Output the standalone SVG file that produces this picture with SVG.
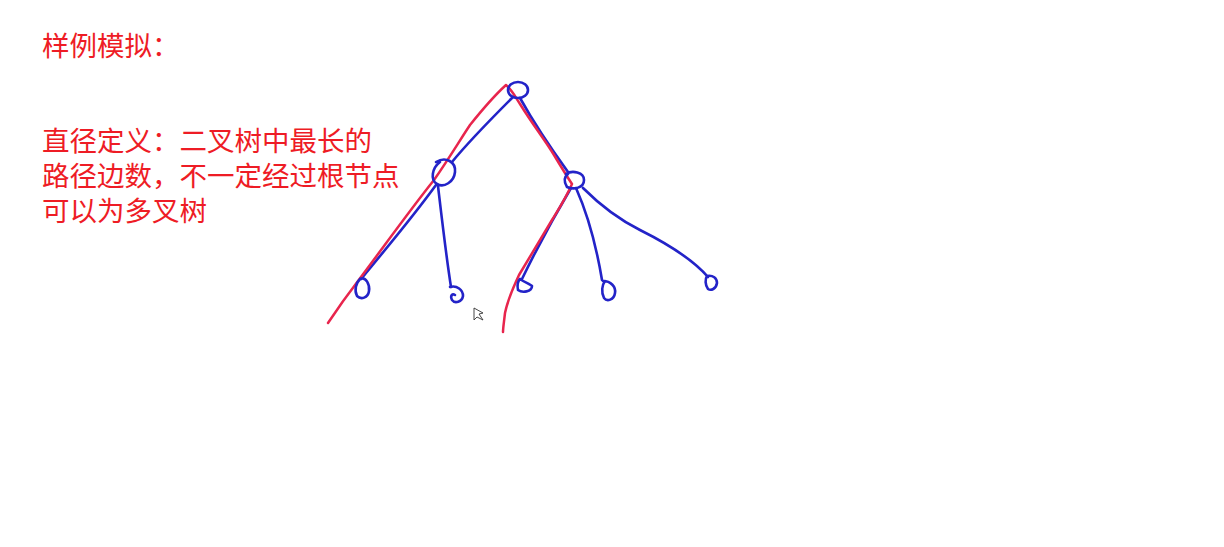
<svg xmlns="http://www.w3.org/2000/svg" width="1224" height="547" viewBox="0 0 1224 547">
<style>
.t{font-family:"Liberation Sans","Noto Sans CJK SC",sans-serif;font-size:27.5px;fill:#ee1c25}
.b{fill:none;stroke:#2323c8;stroke-width:2.6;stroke-linecap:round;stroke-linejoin:round}
.r{fill:none;stroke:#e8254d;stroke-width:2.5;stroke-linecap:round;stroke-linejoin:round}
</style>
<rect width="1224" height="547" fill="#ffffff"/>
<g id="title"><text class="t" x="42" y="56">样例模拟：</text></g>
<g id="definition">
<text class="t" x="42" y="151">直径定义：二叉树中最长的</text>
<text class="t" x="42" y="186">路径边数，不一定经过根节点</text>
<text class="t" x="42" y="221">可以为多叉树</text>
</g>
<g id="connectors">
<path class="b" d="M512,98 C492,118 470,140 452,162"/>
<path class="b" d="M520,98 C535,125 552,150 568,172"/>
<path class="b" d="M436,185 C412,218 385,250 361,279"/>
<path class="b" d="M438,186 C442,220 446,255 451,287"/>
<path class="b" d="M571,188 C555,215 537,248 522,279"/>
<path class="b" d="M576,188 C588,215 597,250 602,280"/>
<path class="b" d="M583,188 C600,205 620,220 640,230 C670,245 695,262 708,277"/>
</g>
<g id="diameter-path">
<path class="r" d="M328,323 C338,308 348,294 358,281 C385,245 410,210 434,180 C448,160 460,140 470,125 C482,110 495,95 506,85 C512,90 516,98 520,104 C533,125 545,140 554,155 C560,165 566,175 572,184 C565,200 558,210 552,220 C540,240 528,260 519,275 C512,290 507,303 505,313 C504,322 503,328 503,332"/>
</g>
<g id="node-root"><ellipse class="b" cx="518" cy="90" rx="10" ry="8"/></g>
<g id="node-left"><path class="b" d="M436,162 C446,156 456,162 455,172 C454,182 444,188 437,184 C430,180 432,168 440,162"/></g>
<g id="node-right"><path class="b" d="M566,174 C572,170 584,172 584,180 C584,188 574,190 567,187 C564,182 564,177 568,174"/></g>
<g id="leaf-1"><path class="b" d="M360,279 C366,276 370,285 369,291 C368,298 361,300 357,296 C354,290 356,283 360,279"/></g>
<g id="leaf-2"><path class="b" d="M450,287 C457,285 463,290 463,296 C462,302 455,304 452,300 C450,296 452,293 455,295"/></g>
<g id="leaf-3"><path class="b" d="M520,279 C524,282 530,284 532,286 C532,292 522,293 518,290 C517,285 518,281 520,279"/></g>
<g id="leaf-4"><path class="b" d="M603,281 C611,281 616,287 615,293 C614,300 607,302 604,298 C601,292 602,285 605,281"/></g>
<g id="leaf-5"><path class="b" d="M707,276 C713,275 717,278 717,283 C716,289 711,291 708,289 C705,285 705,279 707,276"/></g>
<g id="cursor"><path d="M474,308 L474,320 L477,317 L483,320 L479,314 L483,313 Z" fill="#ffffff" stroke="#333333" stroke-width="0.9"/></g>
</svg>
